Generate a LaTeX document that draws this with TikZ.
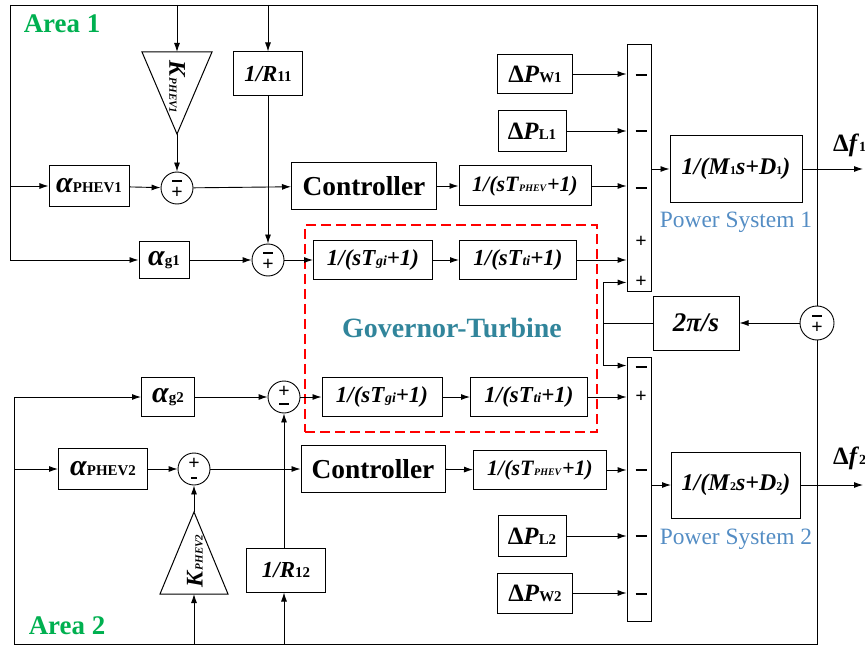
\documentclass[tikz,border=0pt]{standalone}
\usepackage{fontspec}
\setmainfont{Liberation Serif}
\usepackage{tikz}
\usetikzlibrary{positioning,arrows.meta,calc}
\definecolor{areagreen}{RGB}{0,176,80}
\definecolor{govteal}{RGB}{49,133,155}
\definecolor{psblue}{RGB}{84,141,196}
\newcommand{\bitx}[1]{\textbf{\textit{#1}}}
\newcommand{\sm}[2]{{\fontsize{#1}{#1}\selectfont #2}}
\newcommand{\mns}{\rule{11bp}{2.6bp}}

\begin{document}
\begin{tikzpicture}[
    x=1bp, y=-1bp,
    blk/.style={draw, line width=1bp, inner sep=0pt, font=\fontsize{23}{23}\selectfont},
    sumc/.style={circle, draw, line width=0.9bp, minimum size=32bp, inner sep=0pt},
    sumbar/.style={draw, line width=0.9bp, minimum width=24bp, inner sep=0pt},
    sgn/.style={inner sep=0pt, font=\bfseries\fontsize{20}{20}\selectfont},
    line/.style={draw, line width=0.9bp, -{Latex[length=9bp,width=6bp]}},
    wire/.style={draw, line width=0.9bp},
    area/.style={text=areagreen, font=\bfseries\fontsize{27}{27}\selectfont},
    pslabel/.style={text=psblue, font=\fontsize{23.5}{23.5}\selectfont, inner sep=0pt}
]
    \useasboundingbox (0,0) rectangle (865,646);

    % area labels
    \node [area] (area1) at (62,24) {Area 1};
    \node [area] (area2) at (67,626) {Area 2};

    % governor-turbine frame
    \node [draw=red, dash pattern=on 10bp off 5bp, line width=1.3bp, minimum width=292bp, minimum height=207bp] (gtbox) at (451,328.5) {};
    \node [text=govteal, font=\bfseries\fontsize{28}{28}\selectfont] (gt) at (452,328) {Governor-Turbine};

    % area 1 blocks
    \node [blk, minimum width=80bp, minimum height=41bp, font=\fontsize{30}{30}\selectfont] (ap1) at (89,186) {\bitx{α}\sm{15}{\textbf{PHEV1}}};
    \coordinate (k1n) at (177,52);
    \coordinate (k1s) at (177,134);
    \draw [line width=1bp] (142,52) -- (212,52) -- (k1s) -- cycle;
    \node [rotate=-90, inner sep=0pt, font=\fontsize{24}{24}\selectfont] (k1) at (177,87) {\bitx{K}\sm{11}{\bitx{PHEV1}}};
    \node [blk, minimum width=69bp, minimum height=44bp, font=\fontsize{23}{23}\selectfont] (r11) at (268,74) {\bitx{1/R}\sm{15}{\textbf{11}}};
    \node [sumc] (s1) at (177,188) {};
    \node [sgn] at ([yshift=7bp]s1.center) {\rule{10bp}{2.4bp}};
    \node [sgn] at ([yshift=-5bp]s1.center) {+};
    \node [blk, minimum width=50bp, minimum height=36bp, font=\fontsize{30}{30}\selectfont] (ag1) at (164,260) {\bitx{α}\sm{15}{\textbf{g1}}};
    \node [sumc] (sg1) at (268,260) {};
    \node [sgn] at ([yshift=7bp]sg1.center) {\rule{10bp}{2.4bp}};
    \node [sgn] at ([yshift=-5bp]sg1.center) {+};
    \node [blk, minimum width=145bp, minimum height=47bp, font=\bfseries\fontsize{27.5}{27.5}\selectfont] (c1) at (364,186) {Controller};
    \node [blk, minimum width=132bp, minimum height=40bp, font=\fontsize{22}{22}\selectfont] (tp1) at (525,186) {\bitx{1/(sT}\sm{10}{\bitx{PHEV}}\bitx{+1)}};
    \node [blk, minimum width=75bp, minimum height=39bp, font=\fontsize{25}{25}\selectfont] (pw1) at (535,74) {\textbf{Δ}\bitx{P}\sm{15}{\textbf{W1}}};
    \node [blk, minimum width=68bp, minimum height=41bp, font=\fontsize{25}{25}\selectfont] (pl1) at (532,131) {\textbf{Δ}\bitx{P}\sm{15}{\textbf{L1}}};
    \node [blk, minimum width=119bp, minimum height=39bp] (gv1) at (373,260) {\bitx{1/(sT}\sm{14}{\bitx{gi}}\bitx{+1)}};
    \node [blk, minimum width=117bp, minimum height=39bp] (tb1) at (518,260) {\bitx{1/(sT}\sm{14}{\bitx{ti}}\bitx{+1)}};
    \node [sumbar, minimum height=247bp] (sb1) at (639,167.5) {};
    \node [sgn] at (641,75) {\mns};
    \node [sgn] at (641,131) {\mns};
    \node [sgn] at (641,188) {\mns};
    \node [sgn] at (641,242) {+};
    \node [sgn] at (641,282) {+};
    \node [blk, minimum width=132bp, minimum height=67bp, font=\fontsize{24}{24}\selectfont] (ps1) at (736,169) {\bitx{1/(M}\sm{12}{\textbf{1}}\bitx{s+D}\sm{12}{\textbf{1}}\bitx{)}};
    \node [pslabel, below=9bp of ps1] (ps1lbl) {Power System 1};
    \node [anchor=west, inner sep=0pt, font=\fontsize{25}{25}\selectfont] (df1lbl) at (833,145) {\textbf{Δ}\bitx{f}\sm{14}{\textbf{1}}};
    \coordinate (df1) at (863,169);

    % tie-line
    \node [sumc, minimum size=34bp] (sr) at (817,323) {};
    \node [sgn] at ([yshift=7bp]sr.center) {\rule{10bp}{2.4bp}};
    \node [sgn] at ([yshift=-5bp]sr.center) {+};
    \node [blk, minimum width=86bp, minimum height=54bp, font=\fontsize{27}{27}\selectfont] (tp) at (696,323) {\bitx{2π/s}};
    \coordinate (jt) at (603,323);

    % area 2 blocks
    \node [blk, minimum width=53bp, minimum height=39bp, font=\fontsize{30}{30}\selectfont] (ag2) at (168,397) {\bitx{α}\sm{15}{\textbf{g2}}};
    \node [sumc] (sg2) at (284,397) {};
    \node [sgn] at ([yshift=5bp]sg2.center) {+};
    \node [sgn] at ([yshift=-7bp]sg2.center) {\rule{10bp}{2.4bp}};
    \node [blk, minimum width=120bp, minimum height=39bp] (gv2) at (382,397) {\bitx{1/(sT}\sm{14}{\bitx{gi}}\bitx{+1)}};
    \node [blk, minimum width=117bp, minimum height=39bp] (tb2) at (529,397) {\bitx{1/(sT}\sm{14}{\bitx{ti}}\bitx{+1)}};
    \node [blk, minimum width=89bp, minimum height=41bp, font=\fontsize{30}{30}\selectfont] (ap2) at (103,469) {\bitx{α}\sm{15}{\textbf{PHEV2}}};
    \node [sumc] (s2) at (194,469) {};
    \node [sgn] at ([yshift=5bp]s2.center) {+};
    \node [sgn] at ([yshift=-9bp]s2.center) {\rule{6bp}{2.2bp}};
    \coordinate (k2n) at (194,512);
    \coordinate (k2s) at (194,594);
    \draw [line width=1bp] (160,594) -- (228,594) -- (k2n) -- cycle;
    \node [rotate=90, inner sep=0pt, font=\fontsize{24}{24}\selectfont] (k2) at (195,561) {\bitx{K}\sm{11}{\bitx{PHEV2}}};
    \node [blk, minimum width=79bp, minimum height=44bp, font=\fontsize{23}{23}\selectfont] (r12) at (286,570) {\bitx{1/R}\sm{15}{\textbf{12}}};
    \node [blk, minimum width=144bp, minimum height=47bp, font=\bfseries\fontsize{27.5}{27.5}\selectfont] (c2) at (373,469) {Controller};
    \node [blk, minimum width=133bp, minimum height=39bp, font=\fontsize{22}{22}\selectfont] (tp2) at (540,470) {\bitx{1/(sT}\sm{10}{\bitx{PHEV}}\bitx{+1)}};
    \node [blk, minimum width=68bp, minimum height=41bp, font=\fontsize{25}{25}\selectfont] (pl2) at (532,536) {\textbf{Δ}\bitx{P}\sm{15}{\textbf{L2}}};
    \node [blk, minimum width=75bp, minimum height=40bp, font=\fontsize{25}{25}\selectfont] (pw2) at (535,593) {\textbf{Δ}\bitx{P}\sm{15}{\textbf{W2}}};
    \node [sumbar, minimum height=264bp] (sb2) at (639,489) {};
    \node [sgn] at (641,367) {\mns};
    \node [sgn] at (641,397) {+};
    \node [sgn] at (641,470) {\mns};
    \node [sgn] at (641,536) {\mns};
    \node [sgn] at (641,594) {\mns};
    \node [blk, minimum width=129bp, minimum height=66bp, font=\fontsize{24}{24}\selectfont] (ps2) at (736,485) {\bitx{1/(M}\sm{12}{\textbf{2}}\bitx{s+D}\sm{12}{\textbf{2}}\bitx{)}};
    \node [pslabel, below=10bp of ps2] (ps2lbl) {Power System 2};
    \node [anchor=west, inner sep=0pt, font=\fontsize{25}{25}\selectfont] (df2lbl) at (833,458) {\textbf{Δ}\bitx{f}\sm{14}{\textbf{2}}};
    \coordinate (df2) at (863,485);

    % feedback frames
    \coordinate (tl) at (10,5);
    \coordinate (tr) at (817,5);
    \coordinate (bl) at (14,644);
    \coordinate (br) at (817,644);
    \path [wire] (sr.north) -- (tr) -- (tl);
    \path [wire] (sr.south) -- (br) -- (bl);

    % area 1 connectors
    \path [line] (tl) |- (ag1.west);
    \path [line] (ap1.west -| tl) -- (ap1.west);
    \path [line] (k1n |- tl) -- (k1n);
    \path [line] (k1s) -- (s1);
    \path [line] (r11.north |- tl) -- (r11.north);
    \path [line] (r11.south) -- (sg1);
    \path [line] (ap1) -- (s1);
    \path [line] (s1) -- (c1);
    \path [line] (c1) -- (tp1);
    \path [line] (tp1.east) -- (tp1.east -| sb1.west);
    \path [line] (ag1) -- (sg1);
    \path [line] (sg1) -- (gv1);
    \path [line] (gv1) -- (tb1);
    \path [line] (tb1.east) -- (tb1.east -| sb1.west);
    \path [line] (pw1.east) -- (pw1.east -| sb1.west);
    \path [line] (pl1.east) -- (pl1.east -| sb1.west);
    \path [line] (sb1.east |- ps1) -- (ps1);
    \path [line] (ps1) -- (df1);

    % tie-line connectors
    \path [line] (sr) -- (tp);
    \path [wire] (tp) -- (jt);
    \path [line] (jt) |- ([yshift=9bp]sb1.south west);
    \path [line] (jt) |- ([yshift=-9bp]sb2.north west);

    % area 2 connectors
    \path [line] (bl) |- (ag2.west);
    \path [line] (ap2.west -| bl) -- (ap2.west);
    \path [line] (k2s |- bl) -- (k2s);
    \path [line] (k2n) -- (s2);
    \path [line] (sg2.south |- bl) -- (sg2.south |- r12.south);
    \path [line] (sg2.south |- r12.north) -- (sg2);
    \path [line] (ag2) -- (sg2);
    \path [line] (sg2) -- (gv2);
    \path [line] (gv2) -- (tb2);
    \path [line] (tb2.east) -- (tb2.east -| sb2.west);
    \path [line] (ap2) -- (s2);
    \path [line] (s2) -- (c2);
    \path [line] (c2) -- (tp2);
    \path [line] (tp2.east) -- (tp2.east -| sb2.west);
    \path [line] (pl2.east) -- (pl2.east -| sb2.west);
    \path [line] (pw2.east) -- (pw2.east -| sb2.west);
    \path [line] (sb2.east |- ps2) -- (ps2);
    \path [line] (ps2) -- (df2);
\end{tikzpicture}
\end{document}
